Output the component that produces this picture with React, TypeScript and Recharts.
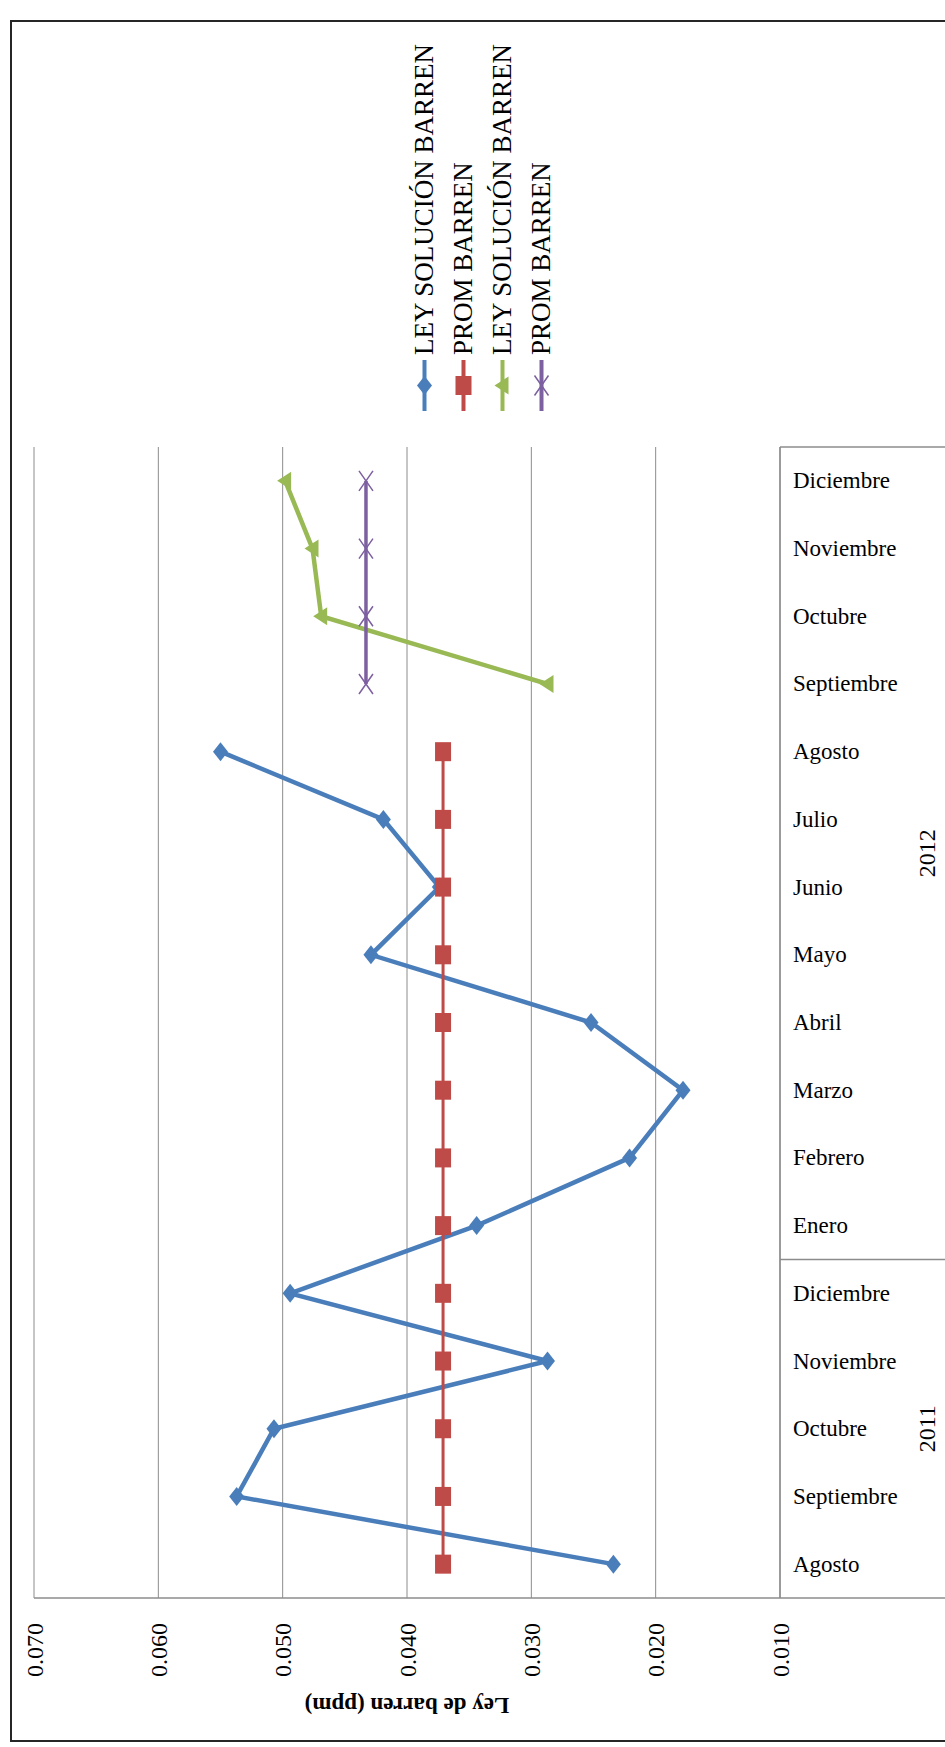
import { LineChart, Line, XAxis, YAxis, CartesianGrid, Legend } from 'recharts'

// Months on the category axis, grouped by year (multi-level axis)
const MONTHS = [
  'Agosto', 'Septiembre', 'Octubre', 'Noviembre', 'Diciembre',
  'Enero', 'Febrero', 'Marzo', 'Abril', 'Mayo', 'Junio', 'Julio',
  'Agosto', 'Septiembre', 'Octubre', 'Noviembre', 'Diciembre',
]
const YEARS = [
  '2011', '2011', '2011', '2011', '2011',
  '2012', '2012', '2012', '2012', '2012', '2012', '2012',
  '2012', '2012', '2012', '2012', '2012',
]

// Barren solution grade (ppm)
const LEY_1 = [0.0234, 0.0537, 0.0507, 0.0287, 0.0494, 0.0344, 0.0221, 0.0178, 0.0252, 0.0429, 0.0374, 0.0419, 0.055, null, null, null, null]
const PROM_1 = [0.0371, 0.0371, 0.0371, 0.0371, 0.0371, 0.0371, 0.0371, 0.0371, 0.0371, 0.0371, 0.0371, 0.0371, 0.0371, null, null, null, null]
const LEY_2 = [null, null, null, null, null, null, null, null, null, null, null, null, null, 0.0287, 0.0469, 0.0476, 0.0498]
const PROM_2 = [null, null, null, null, null, null, null, null, null, null, null, null, null, 0.0433, 0.0433, 0.0433, 0.0433]

const VALUE_TICKS = [0.01, 0.02, 0.03, 0.04, 0.05, 0.06, 0.07]

const data = MONTHS.map((month, i) => ({
  month,
  ley1: LEY_1[i],
  prom1: PROM_1[i],
  ley2: LEY_2[i],
  prom2: PROM_2[i],
}))

// the chart is laid out landscape and turned a quarter turn onto the page
const PAGE_W = 945
const PAGE_H = 1747
const CHART_W = 1747
const CHART_H = 945
const Y_AXIS_W = 149
const X_AXIS_H = 165
const MARGIN = { top: 34, right: 447, bottom: 0, left: 0 }
const PLOT_W = CHART_W - Y_AXIS_W - MARGIN.right
const BAND = PLOT_W / MONTHS.length

const FONT = '"Liberation Serif", "Times New Roman", serif'
const AXIS = '#8c8c8c'

const SERIES = [
  { key: 'ley1', name: 'LEY SOLUCIÓN BARREN', color: '#4a7ebb', width: 4.5, marker: 'diamond' },
  { key: 'prom1', name: 'PROM BARREN', color: '#be4b48', width: 3, marker: 'square' },
  { key: 'ley2', name: 'LEY SOLUCIÓN BARREN', color: '#98b954', width: 4.5, marker: 'triangle' },
  { key: 'prom2', name: 'PROM BARREN', color: '#7d60a0', width: 3.5, marker: 'x' },
]

function markerShape(kind: string, cx: number, cy: number, color: string) {
  switch (kind) {
    case 'diamond':
      return <polygon points={`${cx},${cy - 7.5} ${cx + 9.5},${cy} ${cx},${cy + 7.5} ${cx - 9.5},${cy}`} fill={color} />
    case 'square':
      return <rect x={cx - 9.5} y={cy - 8} width={19} height={16} fill={color} />
    case 'triangle':
      return <polygon points={`${cx},${cy - 8} ${cx + 9},${cy + 6} ${cx - 9},${cy + 6}`} fill={color} />
    default:
      return (
        <path
          d={`M${cx - 10},${cy - 7}L${cx + 10},${cy + 7}M${cx - 10},${cy + 7}L${cx + 10},${cy - 7}`}
          stroke={color}
          strokeWidth={1.5}
          fill="none"
        />
      )
  }
}

function makeDot(kind: string, color: string) {
  return (p: any) => {
    if (p.cx == null || p.cy == null || p.value == null) return <g key={`e-${p.index}`} />
    return <g key={`m-${p.index}`}>{markerShape(kind, p.cx, p.cy, color)}</g>
  }
}

function MonthTick(props: any) {
  const { x, y, payload, index } = props
  const year = YEARS[index]
  const startsGroup = index === 0 || YEARS[index - 1] !== year
  const isLast = index === MONTHS.length - 1
  const groupLen = YEARS.filter((yr) => yr === year).length
  const left = x - BAND / 2
  const ty = y + 13
  return (
    <g>
      <text
        x={x}
        y={ty}
        transform={`rotate(90, ${x}, ${ty})`}
        textAnchor="start"
        dominantBaseline="central"
        fontFamily={FONT}
        fontSize={23}
        fill="#000"
      >
        {payload.value}
      </text>
      {startsGroup && <line x1={left} x2={left} y1={y} y2={CHART_H} stroke={AXIS} strokeWidth={1.5} />}
      {startsGroup && (
        <text
          x={left + (groupLen * BAND) / 2}
          y={y + 147}
          textAnchor="middle"
          dominantBaseline="central"
          fontFamily={FONT}
          fontSize={24}
          fill="#000"
        >
          {year}
        </text>
      )}
      {isLast && <line x1={x + BAND / 2} x2={x + BAND / 2} y1={y} y2={CHART_H} stroke={AXIS} strokeWidth={1.5} />}
    </g>
  )
}

function AxisTitle(props: any) {
  const vb = props.viewBox || { y: MARGIN.top, height: CHART_H - MARGIN.top - X_AXIS_H }
  const cx = 42
  const cy = vb.y + vb.height / 2
  return (
    <text
      x={cx}
      y={cy}
      transform={`rotate(-90, ${cx}, ${cy})`}
      textAnchor="middle"
      dominantBaseline="central"
      fontFamily={FONT}
      fontSize={23}
      fontWeight="bold"
      fill="#000"
    >
      Ley de barren  (ppm)
    </text>
  )
}

// legend rows keep the series order rather than the library's sorted payload
function LegendContent(props: any) {
  const payload: any[] = props.payload || []
  return (
    <div style={{ fontFamily: FONT, fontSize: 27, color: '#000' }}>
      {SERIES.map((s) => {
        const entry = payload.find((e: any) => e.dataKey === s.key)
        const label = entry ? entry.value : s.name
        return (
          <div key={s.key} style={{ display: 'flex', alignItems: 'center', height: 39, whiteSpace: 'nowrap' }}>
            <svg width={51} height={39} style={{ marginRight: 5, flex: 'none' }}>
              <line x1={0} x2={51} y1={19.5} y2={19.5} stroke={s.color} strokeWidth={4} />
              {markerShape(s.marker, 25.5, 19.5, s.color)}
            </svg>
            <span>{label}</span>
          </div>
        )
      })}
    </div>
  )
}

export default function App() {
  return (
    <div
      style={{
        position: 'absolute',
        left: 0,
        top: 0,
        width: PAGE_W,
        height: PAGE_H,
        overflow: 'hidden',
        background: '#fff',
      }}
    >
      <div
        style={{
          position: 'absolute',
          left: 0,
          top: 0,
          width: CHART_W,
          height: CHART_H,
          transformOrigin: '0 0',
          transform: `translateY(${PAGE_H}px) rotate(-90deg)`,
        }}
      >
        <LineChart width={CHART_W} height={CHART_H} data={data} margin={MARGIN}>
          <CartesianGrid vertical={false} stroke={AXIS} strokeWidth={1} />
          <XAxis
            dataKey="month"
            height={X_AXIS_H}
            interval={0}
            padding={{ left: BAND / 2, right: BAND / 2 }}
            tickLine={false}
            tickSize={0}
            tickMargin={0}
            axisLine={{ stroke: AXIS, strokeWidth: 1.5 }}
            tick={(p: any) => <MonthTick {...p} />}
          />
          <YAxis
            width={Y_AXIS_W}
            domain={[0.01, 0.07]}
            ticks={VALUE_TICKS}
            allowDataOverflow
            tickFormatter={(v: number) => v.toFixed(3)}
            tickLine={false}
            tickSize={0}
            tickMargin={25}
            axisLine={{ stroke: AXIS, strokeWidth: 1.5 }}
            tick={{ fontFamily: FONT, fontSize: 24, fill: '#000' }}
            label={<AxisTitle />}
          />
          <Legend
            layout="vertical"
            align="center"
            verticalAlign="middle"
            wrapperStyle={{ left: 1336, top: 405, width: 420, height: 160 }}
            content={(p: any) => <LegendContent {...p} />}
          />
          {SERIES.map((s) => (
            <Line
              key={s.key}
              type="linear"
              dataKey={s.key}
              name={s.name}
              stroke={s.color}
              strokeWidth={s.width}
              dot={makeDot(s.marker, s.color)}
              activeDot={false}
              isAnimationActive={false}
            />
          ))}
        </LineChart>
      </div>
      <div
        style={{
          position: 'absolute',
          left: 10,
          top: 20,
          width: 960,
          height: 1722,
          border: '2px solid #262626',
          boxSizing: 'border-box',
          pointerEvents: 'none',
        }}
      />
    </div>
  )
}
